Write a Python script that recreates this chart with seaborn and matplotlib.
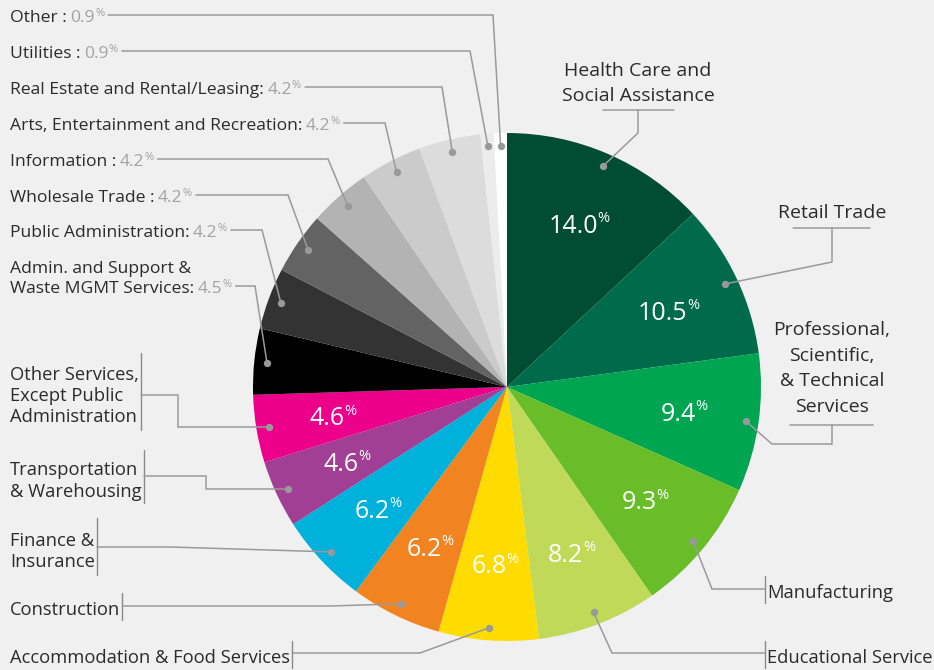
import math
import matplotlib
matplotlib.use("Agg")
import matplotlib.pyplot as plt
import seaborn as sns

# ---------------- data ----------------
categories = [
    "Health Care and Social Assistance", "Retail Trade",
    "Professional, Scientific, & Technical Services", "Manufacturing",
    "Educational Service", "Accommodation & Food Services", "Construction",
    "Finance & Insurance", "Transportation & Warehousing",
    "Other Services, Except Public Administration",
    "Admin. and Support & Waste MGMT Services", "Public Administration",
    "Wholesale Trade", "Information", "Arts, Entertainment and Recreation",
    "Real Estate and Rental/Leasing", "Utilities", "Other",
]
shares = [14.0, 10.5, 9.4, 9.3, 8.2, 6.8, 6.2, 6.2, 4.6, 4.6,
          4.5, 4.2, 4.2, 4.2, 4.2, 4.2, 0.9, 0.9]
slice_colors = [
    "#004d33", "#006b4b", "#00a551", "#69bd29", "#c0d959", "#ffdc00",
    "#f28321", "#00b1dc", "#a13f95", "#ec008b",
    "#000000", "#333333", "#636363", "#b3b3b3", "#cbcbcb", "#dcdcdc",
    "#ececec", "#ffffff",
]
# how the category names are broken into lines on the chart
label_lines = [
    ["Health Care and", "Social Assistance"], ["Retail Trade"],
    ["Professional,", "Scientific,", "& Technical", "Services"], ["Manufacturing"],
    ["Educational Service"], ["Accommodation & Food Services"], ["Construction"],
    ["Finance &", "Insurance"], ["Transportation", "& Warehousing"],
    ["Other Services,", "Except Public", "Administration"],
    ["Admin. and Support &", "Waste MGMT Services:"], ["Public Administration:"],
    ["Wholesale Trade :"], ["Information :"], ["Arts, Entertainment and Recreation:"],
    ["Real Estate and Rental/Leasing:"], ["Utilities :"], ["Other :"],
]
n_inside = 10  # first ten slices carry their share inside the wedge

# ---------------- style ----------------
sns.set_theme(style="white")
FONT = ["Open Sans", "DejaVu Sans"]
plt.rcParams["font.family"] = FONT
BG = "#f0f0f0"
DARK = "#2b2b2b"
VALGREY = "#a3a3a3"
LINE = "#9a9a9a"
BAR = "#8a8a8a"

W, H = 934, 670
fig = plt.figure(figsize=(W / 100, H / 100), dpi=100)
fig.patch.set_facecolor(BG)
ax = fig.add_axes([0, 0, 1, 1])
ax.set_facecolor(BG)

CX, CY, R = 507, 387, 254
wedges, _ = ax.pie(shares, colors=slice_colors, startangle=270, counterclock=True,
                   center=(CX, CY), radius=R, wedgeprops=dict(linewidth=0))
ax.set_xlim(0, W)
ax.set_ylim(H, 0)
ax.set_aspect("equal")
ax.axis("off")


def at(w, frac):
    t = math.radians((w.theta1 + w.theta2) / 2)
    return CX + frac * R * math.cos(t), CY + frac * R * math.sin(t)


dots = [at(w, 0.95) for w in wedges]

# inside share labels
for i in range(n_inside):
    x, y = at(wedges[i], 0.70)
    t = ax.text(x - 5, y + 9, f"{shares[i]:.1f}", fontsize=18, color="white",
                ha="center", va="baseline")
    ax.annotate("%", xy=(1, 1), xycoords=t, xytext=(-0.3, 2), textcoords="offset points",
                ha="left", va="top", fontsize=10.5, color="white")


def txt(x, y, s, size, color=DARK, ha="left"):
    return ax.text(x, y, s, fontsize=size, color=color, ha=ha, va="baseline")


# ---- left top labels with grey value ----
left_top = {  # idx: (baselines, corner x)
    17: ([22], 493), 16: ([58], 470), 15: ([94], 442), 14: ([130], 385),
    13: ([166], 328), 12: ([202], 288), 11: ([237], 262), 10: ([273, 293], 255),
}
pct_artists = {}
for idx, (bls, cx) in left_top.items():
    last = None
    for line, bl in zip(label_lines[idx], bls):
        last = txt(10, bl, line, 12.6)
    v = ax.annotate(f"{shares[idx]:.1f}", xy=(1, 0), xycoords=last, xytext=(2.5, 0),
                    textcoords="offset points", ha="left", va="bottom",
                    fontsize=12.6, color=VALGREY)
    p = ax.annotate("%", xy=(1, 1), xycoords=v, xytext=(0.2, 1.5), textcoords="offset points",
                    ha="left", va="top", fontsize=8, color=VALGREY)
    pct_artists[idx] = p

# ---- left bottom labels with bar ----
left_bot = {  # idx: (baselines, bar span, line y, key)
    9: ([380, 401, 422], (353, 430), 395, "os"),
    8: ([475, 497], (450, 503), 476, "tr"),
    7: ([546, 567], (518, 575), 547, "fi"),
    6: ([615], (593, 620), 606, "co"),
    5: ([663], (641, 668), 653, "ac"),
}
bot_texts = {}
for idx, (bls, span, ly, _) in left_bot.items():
    bot_texts[idx] = [txt(10, bl, line, 13.2) for line, bl in zip(label_lines[idx], bls)]

# ---- right labels ----
for line, bl in zip(label_lines[0], [76, 101]):
    txt(638, bl, line, 14, ha="center")
txt(832, 218, label_lines[1][0], 14, ha="center")
for line, bl in zip(label_lines[2], [335, 361, 386, 412]):
    txt(832, bl, line, 14, ha="center")
RB = 765
txt(RB + 2, 598, label_lines[3][0], 13.2)
txt(RB + 2, 663, label_lines[4][0], 13.2)

fig.canvas.draw()
rend = fig.canvas.get_renderer()


def right_edge(artist):
    return artist.get_window_extent(rend).x1


def route(points, idx):
    xs = [p[0] for p in points] + [dots[idx][0]]
    ys = [p[1] for p in points] + [dots[idx][1]]
    ax.plot(xs, ys, color=LINE, lw=1.1, solid_joinstyle="miter", zorder=3)


# left top leader lines
for idx, (bls, cx) in left_top.items():
    sx = right_edge(pct_artists[idx]) + 4
    ly = bls[-1] - 7
    cx = max(cx, sx + 8)
    route([(sx, ly), (cx, ly)], idx)

# left bottom bars + leader lines
for idx, (bls, span, ly, key) in left_bot.items():
    bx = max(right_edge(t) for t in bot_texts[idx]) + 2
    ax.plot([bx, bx], span, color=BAR, lw=1.0, zorder=3)
    dx, dy = dots[idx]
    if key == "os":
        pts = [(bx, ly), (178, ly), (178, dy)]
    elif key == "tr":
        pts = [(bx, ly), (206, ly), (206, dy)]
    elif key == "fi":
        pts = [(bx, ly), (170, ly)]
    elif key == "co":
        pts = [(bx, ly), (330, ly)]
    else:
        pts = [(bx, ly), (420, ly)]
    route(pts, idx)

# right side decorations
ax.plot([603, 674], [110, 110], color=LINE, lw=1.1)
route([(638, 110), (638, 133)], 0)
ax.plot([793, 870], [228, 228], color=LINE, lw=1.1)
route([(832, 228), (832, 262)], 1)
ax.plot([790, 873], [425, 425], color=LINE, lw=1.1)
route([(832, 425), (832, 444), (772, 444)], 2)
ax.plot([RB, RB], [576, 603], color=BAR, lw=1.0)
route([(RB, 589), (712, 589)], 3)
ax.plot([RB, RB], [641, 668], color=BAR, lw=1.0)
route([(RB, 653), (612, 653)], 4)

# dots at the wedge ends of the leader lines
sns.scatterplot(x=[d[0] for d in dots], y=[d[1] for d in dots], ax=ax, s=28,
                color="#999999", linewidth=0, zorder=4, legend=False)
ax.set_xlim(0, W)
ax.set_ylim(H, 0)
ax.axis("off")

fig.savefig("out.png", dpi=100, facecolor=BG)
